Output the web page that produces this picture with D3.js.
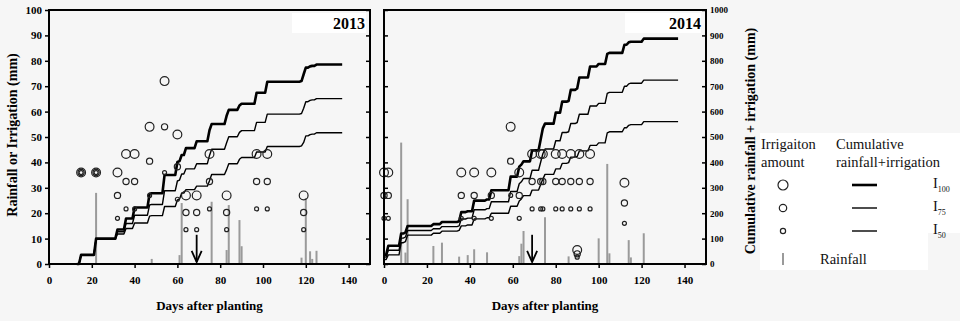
<!DOCTYPE html>
<html><head><meta charset="utf-8">
<script src="https://cdn.jsdelivr.net/npm/d3@7"></script>
<style>body{margin:0;background:#f6f6f6;} svg{display:block;}</style>
</head><body><svg id="c" width="960" height="321"></svg>
<script>
// ---------- DATA ----------
const xTicks = [0,20,40,60,80,100,120,140];
const yTicksLeft = [0,10,20,30,40,50,60,70,80,90,100];
const yTicksRight = [0,100,200,300,400,500,600,700,800,900,1000];
const years = ["2013","2014"];

// 2013 irrigation events (mm) per treatment
const irrDays2013 = [15,22,32,36,40,47,54,60,64,69,75,83,97,102,119];
const irr2013_I100 = [36,36,36,43.3,43.3,54,72,51,27,27,43.3,27,43.3,43.3,27];
const irr2013_I75  = [36,36,27,32.5,32.5,40.5,54,38.3,20.3,20.3,32.5,20.3,32.5,32.5,20.3];
const irr2013_I50  = [36,36,18,21.7,21.7,27,36,25.5,13.5,13.5,21.7,13.5,21.7,21.7,13.5];
const rainDays2013 = [22,48,61,62,76,83,84,89,90,118,120,122,123,125];
const rain2013     = [28,2,3.5,24,24.5,5.5,23.2,17.3,7,2.5,26,5,2,5.2];

// 2013 cumulative rainfall+irrigation (mm), step values at given days
const cumStart2013 = 13, cumEnd2013 = 137;
const cumStartVal2013 = [0,0,0];
const cumDays2013 = [15,22,32,36,40,47,48,54,60,61,62,64,69,75,76,83,84,89,90,97,102,118,119,120,122,123,125];
const cum2013_I100 = [36,100,136,179.3,222.6,276.6,278.6,350.6,401.6,405.1,429.1,456.1,483.1,526.4,550.9,583.4,606.6,623.9,630.9,674.2,717.5,720,747,773,778,780,785.2];
const cum2013_I75  = [36,100,127,159.5,192,232.5,234.5,288.5,326.8,330.3,354.3,374.6,394.9,427.4,451.9,477.7,500.9,518.2,525.2,557.7,590.2,592.7,613,639,644,646,651.2];
const cum2013_I50  = [36,100,118,139.7,161.4,188.4,190.4,226.4,251.9,255.4,279.4,292.9,306.4,328.1,352.6,371.6,394.8,412.1,419.1,440.8,462.5,465,478.5,504.5,509.5,511.5,516.7];

// 2014 irrigation events
const irrDays2014 = [0,2,36,42,50,59,63,69,73,74,80,83,87,90,91,96,112];
const irr2014_I100 = [36,36,36,36,36,54,36,43.3,43.3,43.3,43.3,43.3,43.3,5.5,43.3,43.3,32];
const irr2014_I75  = [27,27,27,27,27,40.5,27,32.5,32.5,32.5,32.5,32.5,32.5,4,32.5,32.5,24];
const irr2014_I50  = [18,18,18,18,18,27,18,21.7,21.7,21.7,21.7,21.7,21.7,2.7,21.7,21.7,16];
const rainDays2014 = [8,10,11,23,27,35,39,42,48,63,64,65,75,86,100,104,105,114,115,121];
const rain2014     = [47.8,4.5,25.5,7.1,8.4,2.9,3.5,5.8,4.6,3.1,8,13,18.4,3,10.1,39.4,4.2,9.4,2.6,12.1];

const cumStart2014 = 0, cumEnd2014 = 137;
const cumStartVal2014 = [36,27,18];
const cumDays2014 = [2,8,10,11,23,27,35,36,39,42,48,50,59,63,64,65,69,73,74,75,80,83,86,87,90,91,96,100,104,105,112,114,115,121];
const cum2014_I100 = [72,119.8,124.3,149.8,156.9,165.3,168.2,204.2,207.7,249.5,254.1,290.1,344.1,383.2,391.2,404.2,447.5,490.8,534.1,552.5,595.8,639.1,642.1,685.4,690.9,734.2,777.5,787.6,827,831.2,863.2,872.6,875.2,887.3];
const cum2014_I75  = [54,101.8,106.3,131.8,138.9,147.3,150.2,177.2,180.7,213.5,218.1,245.1,285.6,315.7,323.7,336.7,369.2,401.7,434.2,452.6,485.1,517.6,520.6,553.1,557.1,589.6,622.1,632.2,671.6,675.8,699.8,709.2,711.8,723.9];
const cum2014_I50  = [36,83.8,88.3,113.8,120.9,129.3,132.2,150.2,153.7,177.5,182.1,200.1,227.1,248.2,256.2,269.2,290.9,312.6,334.3,352.7,374.4,396.1,399.1,420.8,423.5,445.2,466.9,477,516.4,520.6,536.6,546,548.6,560.7];

// arrow annotation (day, from mm, to mm)
const arrowDay = [69, 69];
const arrowFrom = 11.5, arrowTo = 0.8;

const treatments = ["I100","I75","I50"];

// ---------- DRAW ----------
const svg = d3.select('#c');
const BG = '#f6f6f6';
svg.append('rect').attr('width',960).attr('height',321).attr('fill',BG);

const TOP = 10, BOTTOM = 264;
const yL = d3.scaleLinear().domain([0,100]).range([BOTTOM,TOP]);
const yR = d3.scaleLinear().domain([0,1000]).range([BOTTOM,TOP]);
const FONT = '"Liberation Serif","Times New Roman",serif';

const panels = [
  {left:49, right:370, year:years[0], irrDays:irrDays2013, irr:[irr2013_I100,irr2013_I75,irr2013_I50],
   rainDays:rainDays2013, rain:rain2013, cumStart:cumStart2013, cumEnd:cumEnd2013, cumStartVal:cumStartVal2013,
   cumDays:cumDays2013, cum:[cum2013_I100,cum2013_I75,cum2013_I50], arrow:arrowDay[0]},
  {left:384, right:706, year:years[1], irrDays:irrDays2014, irr:[irr2014_I100,irr2014_I75,irr2014_I50],
   rainDays:rainDays2014, rain:rain2014, cumStart:cumStart2014, cumEnd:cumEnd2014, cumStartVal:cumStartVal2014,
   cumDays:cumDays2014, cum:[cum2014_I100,cum2014_I75,cum2014_I50], arrow:arrowDay[1]}
];

const radii = [4.4, 3.1, 2.0];
const lineW = [2.6, 1.4, 1.4];

panels.forEach((p, pi) => {
  const x = d3.scaleLinear().domain([0,150]).range([p.left, p.right]);
  const g = svg.append('g');

  // year label box
  g.append('rect').attr('x', pi===0?292:625).attr('y',13).attr('width', pi===0?74:76).attr('height',20).attr('fill','#fff');
  g.append('text').attr('x', p.right-5).attr('y',29).attr('text-anchor','end')
    .attr('font-family',FONT).attr('font-weight','bold').attr('font-size',16).text(p.year);

  // rainfall bars
  g.selectAll('.rain').data(p.rainDays.map((d,i)=>({d, v:p.rain[i]}))).enter().append('line')
    .attr('x1', d=>x(d.d)).attr('x2', d=>x(d.d)).attr('y1', yL(0)).attr('y2', d=>yL(d.v))
    .attr('stroke','#9a9a9a').attr('stroke-width',2);

  // cumulative lines
  p.cum.forEach((vals, ti) => {
    const pts = [[p.cumStart, p.cumStartVal[ti]]];
    p.cumDays.forEach((d,i) => {
      const last = pts[pts.length-1];
      if (d-1 > last[0]) pts.push([d-1, last[1]]);
      pts.push([d, vals[i]]);
    });
    pts.push([p.cumEnd, pts[pts.length-1][1]]);
    g.append('path').attr('d', d3.line().x(q=>x(q[0])).y(q=>yR(q[1]))(pts))
      .attr('fill','none').attr('stroke','#000').attr('stroke-width',lineW[ti]).attr('stroke-linejoin','round');
  });

  // irrigation circles
  p.irr.forEach((vals, ti) => {
    g.selectAll('.c'+ti).data(p.irrDays.map((d,i)=>({d, v:vals[i]}))).enter().append('circle')
      .attr('cx', d=>x(d.d)).attr('cy', d=>yL(d.v)).attr('r', radii[ti])
      .attr('fill','none').attr('stroke','#222').attr('stroke-width',1.2);
  });

  // arrow
  const ax = x(p.arrow);
  g.append('line').attr('x1',ax).attr('x2',ax).attr('y1',yL(arrowFrom)).attr('y2',yL(arrowTo))
    .attr('stroke','#000').attr('stroke-width',1.8);
  g.append('path').attr('d', `M${ax-5},${yL(arrowTo)-11}L${ax},${yL(arrowTo)}L${ax+5},${yL(arrowTo)-11}`)
    .attr('fill','none').attr('stroke','#000').attr('stroke-width',1.8);

  // axes
  const bottom = g.append('g').attr('transform',`translate(0,${BOTTOM})`)
    .call(d3.axisBottom(x).tickValues(xTicks).tickSize(4).tickPadding(8));
  const leftAx = g.append('g').attr('transform',`translate(${p.left},0)`);
  const rightAx = g.append('g').attr('transform',`translate(${p.right},0)`);
  if (pi===0) {
    leftAx.call(d3.axisLeft(yL).tickValues(yTicksLeft).tickSize(4).tickPadding(3));
    rightAx.call(d3.axisRight(yL).tickValues(yTicksLeft).tickSize(-4).tickFormat(''));
  } else {
    leftAx.call(d3.axisRight(yL).tickValues(yTicksLeft).tickSize(4).tickFormat(''));
    rightAx.call(d3.axisRight(yR).tickValues(yTicksRight).tickSize(-4).tickPadding(4).tickFormat(d3.format('d')));
    rightAx.selectAll('text').attr('font-size',9);
  }
  [bottom,leftAx,rightAx].forEach(a => {
    a.select('.domain').remove();
    a.attr('font-family',FONT);
    a.selectAll('line').attr('stroke','#000').attr('stroke-width',1.5);
    a.selectAll('text').attr('font-family',FONT).attr('font-weight','bold').attr('fill','#000');
  });
  bottom.selectAll('text').attr('font-size',11);
  if (pi===0) leftAx.selectAll('text').attr('font-size',11);

  // frame
  g.append('rect').attr('x',p.left).attr('y',TOP).attr('width',p.right-p.left).attr('height',BOTTOM-TOP)
    .attr('fill','none').attr('stroke','#000').attr('stroke-width',2);

  // x title
  g.append('text').attr('x',(p.left+p.right)/2).attr('y',310).attr('text-anchor','middle')
    .attr('font-family',FONT).attr('font-weight','bold').attr('font-size',13).text('Days after planting');
});

// y titles
svg.append('text').attr('transform','translate(17,135) rotate(-90)').attr('text-anchor','middle')
  .attr('font-family',FONT).attr('font-weight','bold').attr('font-size',14).text('Rainfall or Irrigation (mm)');
svg.append('text').attr('transform','translate(755,141) rotate(-90)').attr('text-anchor','middle')
  .attr('font-family',FONT).attr('font-weight','bold').attr('font-size',14).text('Cumulative rainfall + irrigation (mm)');

// legend
const lg = svg.append('g');
lg.append('rect').attr('x',760).attr('y',133).attr('width',200).attr('height',100).attr('fill','#fff');
lg.append('rect').attr('x',760).attr('y',233).attr('width',168).attr('height',37).attr('fill','#fff');
const lt = (t,xx,yy)=>lg.append('text').attr('x',xx).attr('y',yy).attr('font-family',FONT).attr('font-size',14.5).attr('fill','#111').text(t);
lt('Irrigaiton',761,149); lt('amount',761,167);
lt('Cumulative',836,149); lt('rainfall+irrigation',836,167);
const legY = [185, 208, 231];
treatments.forEach((t,i)=>{
  lg.append('circle').attr('cx',783).attr('cy',legY[i]).attr('r',radii[i]+0.6)
    .attr('fill','none').attr('stroke','#222').attr('stroke-width',1.2);
  lg.append('line').attr('x1',852).attr('x2',877).attr('y1',legY[i]).attr('y2',legY[i])
    .attr('stroke','#000').attr('stroke-width',lineW[i]);
  const tx = lg.append('text').attr('x',933).attr('y',legY[i]+3).attr('font-family',FONT).attr('font-size',14.5).attr('fill','#111');
  tx.append('tspan').text('I');
  tx.append('tspan').attr('dy',4).attr('font-size',8).text(t.slice(1));
});
lg.append('line').attr('x1',783).attr('x2',783).attr('y1',253).attr('y2',265).attr('stroke','#9a9a9a').attr('stroke-width',2);
lt('Rainfall',820,264);
</script></body></html>
